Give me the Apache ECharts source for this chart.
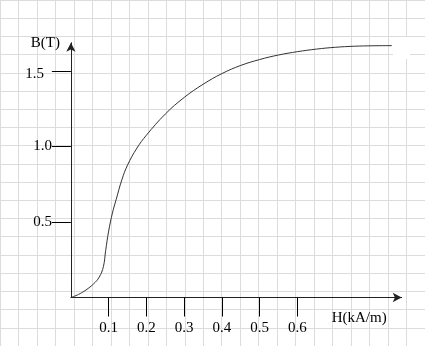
<!DOCTYPE html>
<html>
<head>
<meta charset="utf-8">
<script src="https://cdn.jsdelivr.net/npm/echarts@6/dist/echarts.min.js"></script>
<style>
html,body{margin:0;padding:0;background:#fff;}
#c{width:425px;height:346px;}
</style>
</head>
<body>
<div id="c"></div>
<script>
// Data (H in kA/m, B in T)
const hValues = [0, 0.02, 0.04, 0.06, 0.075, 0.086, 0.092, 0.1, 0.11, 0.12, 0.135, 0.15, 0.175, 0.2, 0.25, 0.3, 0.35, 0.4, 0.45, 0.5, 0.55, 0.6, 0.65, 0.7, 0.75, 0.8, 0.85];
const bValues = [0, 0.02, 0.05, 0.09, 0.135, 0.204, 0.31, 0.44, 0.56, 0.65, 0.78, 0.877, 0.99, 1.075, 1.215, 1.325, 1.412, 1.483, 1.537, 1.576, 1.606, 1.628, 1.645, 1.657, 1.664, 1.667, 1.668];
const xTicks = [0.1, 0.2, 0.3, 0.4, 0.5, 0.6];
const yTicks = [0.5, 1.0, 1.5];
const xName = 'H(kA/m)';
const yName = 'B(T)';

const font = 'Liberation Serif';
const chart = echarts.init(document.getElementById('c'), null, {renderer: 'canvas'});
const seriesData = hValues.map((h, i) => [h, bValues[i]]);

chart.setOption({
  animation: false,
  backgroundColor: '#fff',
  grid: [
    {left: 70.9, top: 42.7, width: 330.8, height: 254.8, show: false},
    {left: -4.58, top: -4.58, width: 434.24, height: 358.72, show: false}
  ],
  xAxis: [
    {
      gridIndex: 0, type: 'value', min: 0, max: 0.876,
      axisLine: {show: true, onZero: false, lineStyle: {color: '#222', width: 1}, symbol: ['none', 'arrow'], symbolSize: [7, 9]},
      axisTick: {show: true, length: 19, lineStyle: {color: '#000'}, customValues: xTicks},
      axisLabel: {show: true, margin: 23, fontFamily: font, fontSize: 15, color: '#000', customValues: xTicks, formatter: v => v.toFixed(1)},
      splitLine: {show: false},
      name: xName, nameLocation: 'end', nameGap: -15,
      nameTextStyle: {fontFamily: font, fontSize: 15, color: '#000', align: 'right', verticalAlign: 'top', padding: [13, 0, 0, 0]}
    },
    {
      gridIndex: 1, type: 'value', min: 0, max: 23, interval: 1,
      axisLine: {show: false}, axisTick: {show: false}, axisLabel: {show: false},
      splitLine: {show: true, lineStyle: {color: '#dcdcdc', width: 1}}
    }
  ],
  yAxis: [
    {
      gridIndex: 0, type: 'value', min: 0, max: 1.6874,
      axisLine: {show: true, onZero: false, lineStyle: {color: '#222', width: 1}, symbol: ['none', 'arrow'], symbolSize: [7, 9]},
      axisTick: {show: true, length: 19, lineStyle: {color: '#000'}, customValues: yTicks},
      axisLabel: {
        show: true, margin: 19, fontFamily: font, fontSize: 15, color: '#000', customValues: yTicks,
        formatter: v => v === 1.5 ? '{s|1.5}' : v.toFixed(1),
        rich: {s: {fontFamily: font, fontSize: 15, color: '#000', padding: [6, 8, 0, 0]}}
      },
      splitLine: {show: false},
      name: yName, nameLocation: 'end', nameGap: 0,
      nameTextStyle: {fontFamily: font, fontSize: 15, color: '#000', align: 'right', verticalAlign: 'middle', padding: [0, 11, 0, 0]}
    },
    {
      gridIndex: 1, type: 'value', min: 0, max: 19, interval: 1, inverse: true,
      axisLine: {show: false}, axisTick: {show: false}, axisLabel: {show: false},
      splitLine: {show: true, lineStyle: {color: '#dcdcdc', width: 1}}
    }
  ],
  graphic: [
    {type: 'rect', shape: {x: 393, y: 37, width: 17, height: 22}, style: {fill: '#fff'}, z: 1}
  ],
  series: [
    {
      type: 'line', xAxisIndex: 0, yAxisIndex: 0, data: seriesData,
      smooth: 0.4, showSymbol: false, symbol: 'none',
      lineStyle: {color: '#333', width: 1}, z: 5
    }
  ]
});
</script>
</body>
</html>
